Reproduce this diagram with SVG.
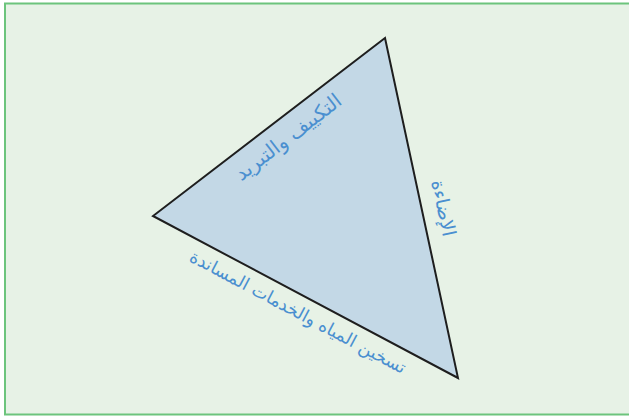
<svg xmlns="http://www.w3.org/2000/svg" width="629" height="416" viewBox="0 0 629 416">
<style>
.lbl{font-family:"DejaVu Sans","Noto Sans",sans-serif;font-size:17.5px;fill:#4a8fd0;text-anchor:middle;dominant-baseline:central}
</style>
<rect x="0" y="0" width="629" height="416" fill="#ffffff"/>
<rect x="5" y="3.5" width="630" height="411" fill="#e7f2e6" stroke="#6cc47c" stroke-width="2"/>
<g id="triangle">
<polygon points="385,38 153,216 458,378" fill="#c3d8e6" stroke="#1e1e1e" stroke-width="2" stroke-linejoin="miter"/>
</g>
<g id="labels">
<text class="lbl" style="font-size:20px" transform="translate(288,137) rotate(-37.5)">التكييف والتبريد</text>
<text class="lbl" style="font-size:19px" transform="translate(444,208) rotate(78)">الإضاءة</text>
<text class="lbl" transform="translate(298,312) rotate(28)">تسخين المياه والخدمات المساندة</text>
</g>
</svg>
